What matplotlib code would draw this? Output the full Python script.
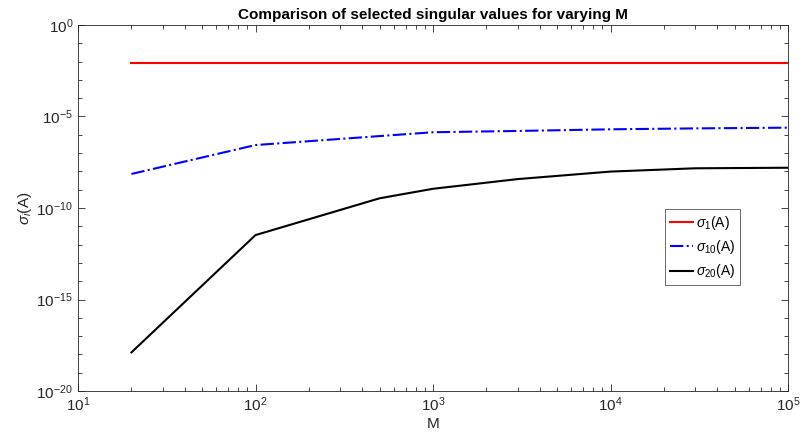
import numpy as np
import matplotlib.pyplot as plt
from matplotlib.ticker import LogLocator, NullFormatter

plt.rcParams['font.family'] = ['Liberation Sans', 'DejaVu Sans']
plt.rcParams['mathtext.fontset'] = 'custom'
plt.rcParams['mathtext.rm'] = 'Liberation Sans'
plt.rcParams['mathtext.it'] = 'Liberation Sans:italic'
plt.rcParams['axes.unicode_minus'] = False

# data (log10 of singular values)
M = [20, 100, 500, 1000, 3000, 10000, 30000, 100000]
log_s1 = [-2.09, -2.09, -2.09, -2.09, -2.09, -2.09, -2.09, -2.09]
log_s10 = [-8.14, -6.56, -6.07, -5.86, -5.79, -5.70, -5.65, -5.61]
log_s20 = [-17.89, -11.48, -9.47, -8.95, -8.42, -8.01, -7.83, -7.80]

s1 = 10.0 ** np.array(log_s1)
s10 = 10.0 ** np.array(log_s10)
s20 = 10.0 ** np.array(log_s20)

fig = plt.figure(figsize=(8.01, 4.44), dpi=100)
ax = fig.add_axes([78 / 801, 1 - 391 / 444, 710 / 801, 366 / 444])

ax.loglog(M, s1, color='red', lw=1.5, label=r'$\sigma_1$(A)')
ax.loglog(M, s10, color='blue', lw=1.5, ls='-.', label=r'$\sigma_{10}$(A)')
ax.loglog(M, s20, color='black', lw=1.5, label=r'$\sigma_{20}$(A)')

ax.set_xlim(10, 1e5)
ax.set_ylim(1e-20, 1)
ax.set_yticks([10.0 ** k for k in range(-20, 1, 5)])
ax.yaxis.set_minor_locator(LogLocator(base=10, subs=[1.0], numticks=30))
ax.yaxis.set_minor_formatter(NullFormatter())
ax.xaxis.set_minor_locator(LogLocator(base=10, subs=np.arange(2, 10), numticks=30))

gray = '#262626'
ax.tick_params(which='both', direction='in', top=True, right=True,
               colors=gray, labelsize=11, labelcolor=gray)
ax.tick_params(which='major', length=5, width=0.6)
ax.tick_params(which='minor', length=3, width=0.6)
for sp in ax.spines.values():
    sp.set_color(gray)
    sp.set_linewidth(0.6)

ax.set_title('Comparison of selected singular values for varying M',
             fontsize=11, fontweight='bold', pad=4)
ax.set_xlabel('M', fontsize=11, color=gray, labelpad=2)
ax.set_ylabel(r'$\sigma_i$(A)', fontsize=11, color=gray, labelpad=2)

leg = ax.legend(loc='upper left', bbox_to_anchor=((665 - 78) / 710, (391 - 209) / 366),
                fontsize=10, frameon=True, fancybox=False, handlelength=1.7,
                handletextpad=0.2, borderpad=0.35, labelspacing=0.45, borderaxespad=0)
leg.get_frame().set_edgecolor(gray)
leg.get_frame().set_linewidth(0.6)

fig.savefig('out.png', dpi=100)
